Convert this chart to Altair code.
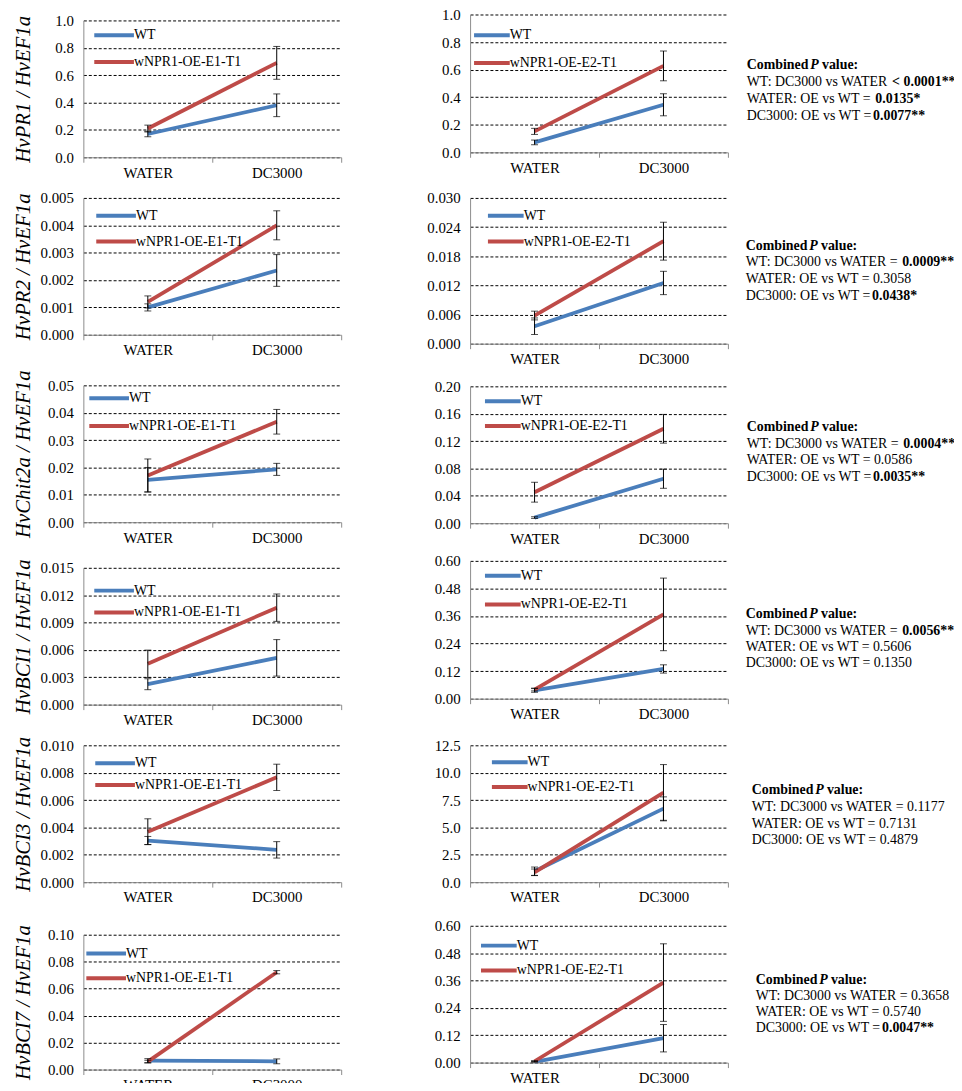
import altair as alt
import pandas as pd

FONT = "Liberation Serif"
BLUE = "#4A7EBB"
RED = "#BE4B48"
GRAY = "#8C8C8C"

# ---------------- data ----------------
treatments = ["WATER", "DC3000"]
genes = ["HvPR1", "HvPR2", "HvChit2a", "HvBCI1", "HvBCI3", "HvBCI7"]
ref_gene = "HvEF1a"
series_e1 = ["WT", "wNPR1-OE-E1-T1"]
series_e2 = ["WT", "wNPR1-OE-E2-T1"]

# left column (E1 line): means and error per [WATER, DC3000]
e1_wt = [[0.17, 0.38], [0.00100, 0.00235], [0.0155, 0.0193], [0.00224, 0.00513], [0.00304, 0.00236], [0.0066, 0.0061]]
e1_wt_err = [[0.02, 0.083], [0.00013, 0.00058], [0.0045, 0.0022], [0.0006, 0.0020], [0.0003, 0.0006], [0.0015, 0.0018]]
e1_oe = [[0.21, 0.69], [0.00120, 0.0040], [0.0171, 0.0367], [0.00448, 0.01063], [0.00369, 0.00766], [0.0059, 0.0722]]
e1_oe_err = [[0.025, 0.12], [0.00022, 0.00053], [0.006, 0.0045], [0.0015, 0.0015], [0.00094, 0.00096], [0.001, 0.0012]]

# right column (E2 line)
e2_wt = [[0.072, 0.345], [0.0036, 0.0125], [0.0082, 0.065], [0.036, 0.1295], [1.0, 6.72], [0.003, 0.107]]
e2_wt_err = [[0.017, 0.08], [0.0017, 0.0024], [0.0012, 0.014], [0.008, 0.018], [0.38, 1.07], [0.002, 0.06]]
e2_oe = [[0.152, 0.627], [0.0058, 0.0211], [0.0453, 0.138], [0.040, 0.367], [0.9, 8.17], [0.006, 0.351]]
e2_oe_err = [[0.022, 0.108], [0.0009, 0.0039], [0.0145, 0.021], [0.006, 0.158], [0.3, 2.57], [0.003, 0.17]]

e1_ticks = [
    [0.0, 0.2, 0.4, 0.6, 0.8, 1.0],
    [0.0, 0.001, 0.002, 0.003, 0.004, 0.005],
    [0.0, 0.01, 0.02, 0.03, 0.04, 0.05],
    [0.0, 0.003, 0.006, 0.009, 0.012, 0.015],
    [0.0, 0.002, 0.004, 0.006, 0.008, 0.010],
    [0.0, 0.02, 0.04, 0.06, 0.08, 0.10],
]
e1_fmt = [".1f", ".3f", ".2f", ".3f", ".3f", ".2f"]
e2_ticks = [
    [0.0, 0.2, 0.4, 0.6, 0.8, 1.0],
    [0.0, 0.006, 0.012, 0.018, 0.024, 0.030],
    [0.0, 0.04, 0.08, 0.12, 0.16, 0.20],
    [0.0, 0.12, 0.24, 0.36, 0.48, 0.60],
    [0.0, 2.5, 5.0, 7.5, 10.0, 12.5],
    [0.0, 0.12, 0.24, 0.36, 0.48, 0.60],
]
e2_fmt = [".1f", ".3f", ".2f", ".2f", ".1f", ".2f"]

pv_header = ["Combined ", "P", " value:"]
# (normal part, bold part)
pv_lines = [
    [("WT: DC3000 vs WATER ", "< 0.0001***"), ("WATER: OE vs WT = ", "0.0135*"), ("DC3000: OE vs WT = ", "0.0077**")],
    [("WT: DC3000 vs WATER = ", "0.0009**"), ("WATER: OE vs WT = 0.3058", ""), ("DC3000: OE vs WT = ", "0.0438*")],
    [("WT: DC3000 vs WATER = ", "0.0004**"), ("WATER: OE vs WT = 0.0586", ""), ("DC3000: OE vs WT = ", "0.0035**")],
    [("WT: DC3000 vs WATER = ", "0.0056**"), ("WATER: OE vs WT = 0.5606", ""), ("DC3000: OE vs WT = 0.1350", "")],
    [("WT: DC3000 vs WATER = 0.1177", ""), ("WATER: OE vs WT = 0.7131", ""), ("DC3000: OE vs WT = 0.4879", "")],
    [("WT: DC3000 vs WATER = 0.3658", ""), ("WATER: OE vs WT = 0.5740", ""), ("DC3000: OE vs WT = ", "0.0047**")],
]

# ---------------- layout / style ----------------
W = 260
left_h = [138, 138, 138, 138, 138, 136]
right_h = [139, 147, 138, 139, 138, 138]
E_LEFT = 46
E_RIGHT = 44
left_xext = [32.5, 33.5, 35, 30, 41, 22]    # x-axis extent (gap to next panel)
right_xext = [37.5, 34.5, 29.5, 38.5, 35.5, 22]
# legend: line start x, first entry centre y, row spacing
left_leg = [(11, 15, 25), (13, 18, 24), (6, 13, 26), (11, 23, 20), (12, 18, 20), (3, 19, 23)]
right_leg = [(4, 21, 26), (18, 18, 24), (15, 15, 23), (15, 15, 27), (22, 17, 23), (11, 20, 23)]
# p-value text block: x, first line y, line step
right_txt = [(279, 51, 17), (278, 48, 17), (279, 41, 16.7), (278, 54, 16.5), (284, 45, 17), (288, 55, 16)]
TXT_SIZE = 14
AX_SIZE = 15
LEG_SIZE = 14

REG = {' ': 250, ':': 278, '<': 564, '=': 564, '*': 500, '.': 250, 'A': 722, 'C': 667, 'D': 722,
       'E': 611, 'O': 722, 'R': 667, 'T': 611, 'W': 944, 'v': 500, 's': 389}
BOLD = {' ': 250, 'C': 722, 'o': 500, 'm': 833, 'b': 556, 'i': 278, 'n': 556, 'e': 444, 'd': 556,
        'v': 500, 'a': 500, 'l': 278, 'u': 556, ':': 333, '<': 570, '=': 570, '*': 500, '.': 250, 'P': 611}


def tw(s, table):
    return 0.975 * sum(table.get(c, 500) for c in s) / 1000.0 * TXT_SIZE


one = pd.DataFrame({"k": [0]})


def text_layer(s, x, y, weight="normal", style="normal"):
    return alt.Chart(one).mark_text(
        align="left", baseline="middle", font=FONT, fontSize=TXT_SIZE,
        fontWeight=weight, fontStyle=style, color="black"
    ).encode(x=alt.value(x), y=alt.value(y), text=alt.value(s))


def spacer(h):
    return alt.Chart(one).mark_rule(opacity=0).encode(
        x=alt.value(0), y=alt.value(0), y2=alt.value(h)).properties(width=1, height=h)


def panel(i, side):
    if side == "L":
        names, wt, wte, oe, oee = series_e1, e1_wt, e1_wt_err, e1_oe, e1_oe_err
        ticks, fmt, H, E, XE, leg = e1_ticks[i], e1_fmt[i], left_h[i], E_LEFT, left_xext[i], left_leg[i]
        ytitle = genes[i] + " / " + ref_gene
        path, loff = "M-1,0H7", 28
    else:
        names, wt, wte, oe, oee = series_e2, e2_wt, e2_wt_err, e2_oe, e2_oe_err
        ticks, fmt, H, E, XE, leg = e2_ticks[i], e2_fmt[i], right_h[i], E_RIGHT, right_xext[i], right_leg[i]
        ytitle = None
        path, loff = "M-1,0H6.2", 24
    rows = []
    for name, m, e in ((names[0], wt[i], wte[i]), (names[1], oe[i], oee[i])):
        for j, t in enumerate(treatments):
            rows.append(dict(treatment=t, series=name, value=m[j], lo=m[j] - e[j], hi=m[j] + e[j]))
    df = pd.DataFrame(rows)

    xscale = alt.Scale(type="band", domain=treatments, paddingInner=0, paddingOuter=0)
    xaxis = alt.Axis(title=None, labelAngle=0, tickBand="extent", ticks=True, tickSize=5,
                     tickColor=GRAY, domainColor=GRAY, domainWidth=1, labelFont=FONT,
                     labelFontSize=AX_SIZE, labelColor="black", labelPadding=3, grid=False,
                     minExtent=XE, zindex=1)
    yscale = alt.Scale(domain=[0, ticks[-1]], nice=False, zero=True)
    yaxis = alt.Axis(values=ticks, tickCount=len(ticks), format=fmt, ticks=False,
                     domainColor=GRAY, domainWidth=1, labelOverlap=False,
                     grid=True, gridColor="black", gridDash=[3, 2], gridWidth=1,
                     labelFont=FONT, labelFontSize=AX_SIZE, labelColor="black", labelPadding=10,
                     minExtent=E, maxExtent=E, titleFont=FONT, titleFontSize=21,
                     titleFontStyle="italic", titleFontWeight="normal", titleColor="black",
                     titlePadding=4)
    lx, ly, sp = leg
    legend = alt.Legend(title=None, orient="none", direction="vertical", legendX=lx - 2,
                        legendY=ly - 7, symbolType=path, symbolSize=100, symbolStrokeWidth=4,
                        labelFont=FONT, labelFontSize=LEG_SIZE, labelColor="black",
                        labelOffset=loff, rowPadding=sp - 14, padding=0)

    base = alt.Chart(df)
    xenc = alt.X("treatment:N", scale=xscale, axis=xaxis)
    xenc2 = alt.X("treatment:N", scale=xscale)
    line = base.mark_line(strokeWidth=3.8).encode(
        x=xenc,
        y=alt.Y("value:Q", scale=yscale, axis=yaxis, title=ytitle),
        color=alt.Color("series:N", scale=alt.Scale(domain=names, range=[BLUE, RED]), legend=legend),
        order=alt.Order("treatment:N"),
    )
    rule = base.mark_rule(color="black", strokeWidth=1).encode(
        x=xenc2, y=alt.Y("lo:Q", scale=yscale, title=ytitle), y2="hi:Q")
    tlo = base.mark_tick(color="black", thickness=1, size=7).encode(
        x=xenc2, y=alt.Y("lo:Q", scale=yscale, title=ytitle))
    thi = base.mark_tick(color="black", thickness=1, size=7).encode(
        x=xenc2, y=alt.Y("hi:Q", scale=yscale, title=ytitle))
    layers = [line, rule, tlo, thi]

    if side == "R":
        tx, ty, st = right_txt[i]
        x0 = tx
        layers.append(text_layer(pv_header[0], x0, ty, weight="bold"))
        x1 = x0 + tw(pv_header[0], BOLD)
        layers.append(text_layer(pv_header[1], x1, ty, weight="bold", style="italic"))
        x2 = x1 + tw(pv_header[1], BOLD) + tw(" ", BOLD)
        layers.append(text_layer(pv_header[2].strip(), x2, ty, weight="bold"))
        for k, (norm, bold) in enumerate(pv_lines[i]):
            yy = ty + st * (k + 1)
            layers.append(text_layer(norm, x0, yy))
            if bold:
                layers.append(text_layer(bold, x0 + tw(norm, REG) + 1.0, yy, weight="bold"))

    return alt.layer(*layers).properties(width=W, height=H)


left_col = alt.vconcat(spacer(7.5), *[panel(i, "L") for i in range(6)], spacing=0).resolve_scale(
    x="independent", y="independent", color="independent").resolve_legend(color="independent")
right_col = alt.vconcat(spacer(1), *[panel(i, "R") for i in range(6)], spacing=0).resolve_scale(
    x="independent", y="independent", color="independent").resolve_legend(color="independent")

# fixed page-sized canvas (954 x 1075): content past the edge is cropped like the reference
PAD_L, PAD_T = 76, -8
chart = alt.hconcat(left_col, right_col, spacing=84).resolve_scale(
    x="independent", y="independent", color="independent"
).resolve_legend(color="independent").properties(
    autosize=alt.AutoSizeParams(type="none"),
    padding={"left": PAD_L, "top": PAD_T, "right": 954 - PAD_L, "bottom": 1075 - PAD_T},
    background="white",
).configure_view(stroke="transparent").configure_axis(
    labelFont=FONT, titleFont=FONT
).configure_legend(labelFont=FONT).configure_text(font=FONT)

chart.save("out.html", embed_options={"renderer": "svg", "actions": False})
